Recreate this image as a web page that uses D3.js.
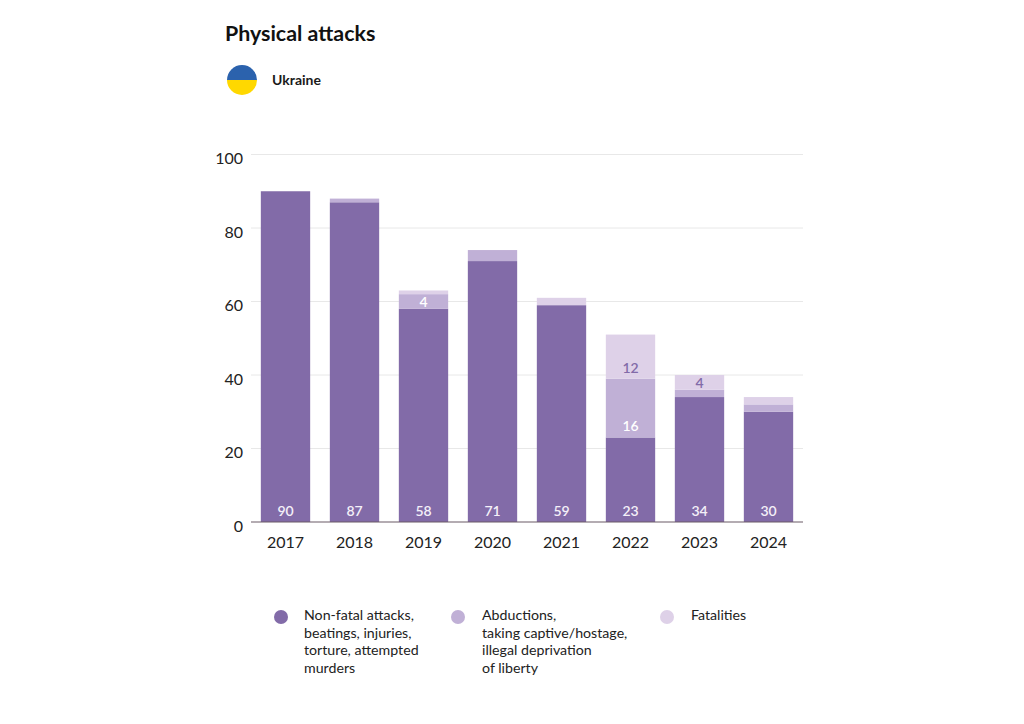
<!DOCTYPE html>
<html><head><meta charset="utf-8">
<script src="https://cdn.jsdelivr.net/npm/d3@7/dist/d3.min.js"></script>
<style>html,body{margin:0;padding:0;background:#fff}svg{display:block}text{font-family:Lato,sans-serif}</style>
</head><body><svg id="c" width="1024" height="724"></svg>
<script>
const years=["2017","2018","2019","2020","2021","2022","2023","2024"];
const nonFatal=[90,87,58,71,59,23,34,30];
const abductions=[0,1,4,3,0,16,2,2];
const fatalities=[0,0,1,0,2,12,4,2];
const yTicks=[0,20,40,60,80,100];
const seriesNames=["nonFatal","abductions","fatalities"];
const seriesColors=["#826ba8","#c0b0d6","#ded1e8"];
const legendLabels=[
 ["Non-fatal attacks,","beatings, injuries,","torture, attempted","murders"],
 ["Abductions,","taking captive/hostage,","illegal deprivation","of liberty"],
 ["Fatalities"]];
const shownLabels=[
 {s:"abductions",y:"2019",c:"#fff"},{s:"abductions",y:"2022",c:"#fff"},
 {s:"fatalities",y:"2022",c:"#826ba8"},{s:"fatalities",y:"2023",c:"#826ba8"}];

const svg=d3.select("#c");
const rows=years.map((y,i)=>({year:y,nonFatal:nonFatal[i],abductions:abductions[i],fatalities:fatalities[i]}));
const stacked=d3.stack().keys(seriesNames)(rows);
const x=d3.scaleBand().domain(years).range([251,803]).paddingInner(0.285).paddingOuter(0.1425);
const y=d3.scaleLinear().domain([0,100]).range([522,154.5]);

svg.append("text").attr("x",225).attr("y",41).attr("font-size",21.4).attr("font-weight",700).attr("fill","#111").text("Physical attacks");
const flag=svg.append("g");
flag.append("clipPath").attr("id","fc").append("circle").attr("cx",242).attr("cy",80).attr("r",15);
flag.append("rect").attr("x",227).attr("y",65).attr("width",30).attr("height",15).attr("fill","#2b62ad").attr("clip-path","url(#fc)");
flag.append("rect").attr("x",227).attr("y",80).attr("width",30).attr("height",15).attr("fill","#ffd800").attr("clip-path","url(#fc)");
svg.append("text").attr("x",272).attr("y",85).attr("font-size",14).attr("font-weight",700).attr("fill","#1a1a1a").text("Ukraine");

const ga=svg.append("g");
ga.selectAll("line").data(yTicks.filter(d=>d>0)).join("line")
 .attr("x1",251).attr("x2",803).attr("y1",d=>y(d)).attr("y2",d=>y(d)).attr("stroke","#e8e8e8").attr("stroke-width",1);
ga.selectAll("text").data(yTicks).join("text").attr("x",243).attr("y",d=>y(d)+9.5).attr("text-anchor","end")
 .attr("font-size",16).attr("fill","#222").text(d=>d);

stacked.forEach((s,i)=>{
 svg.append("g").attr("fill",seriesColors[i]).selectAll("rect").data(s.filter(d=>d[1]>d[0])).join("rect")
  .attr("x",d=>x(d.data.year)).attr("width",x.bandwidth())
  .attr("y",d=>y(d[1])).attr("height",d=>y(d[0])-y(d[1]));
});
svg.append("line").attr("x1",251).attr("x2",803).attr("y1",522).attr("y2",522).attr("stroke","#6b5a66").attr("stroke-width",1.2);

const cx=d=>x(d)+x.bandwidth()/2;
svg.append("g").selectAll("text").data(years).join("text").attr("x",cx).attr("y",547.5).attr("text-anchor","middle")
 .attr("font-size",16).attr("fill","#222").text(d=>d);
svg.append("g").selectAll("text").data(rows).join("text").attr("x",d=>cx(d.year)).attr("y",516).attr("text-anchor","middle")
 .attr("font-size",14).attr("font-weight",600).attr("fill","#f4f0f8").text(d=>d.nonFatal);
const gl=svg.append("g");
shownLabels.forEach(l=>{
 const si=seriesNames.indexOf(l.s), yi=years.indexOf(l.y), seg=stacked[si][yi];
 const off=(seg[1]-seg[0])>8?6:2;
 gl.append("text").attr("x",cx(l.y)).attr("y",y(seg[0])-off).attr("text-anchor","middle")
  .attr("font-size",14).attr("font-weight",600).attr("fill",l.c).text(seg[1]-seg[0]);
});

const legX=[281,458,667], legTx=[304,482,691];
legendLabels.forEach((lines,i)=>{
 svg.append("circle").attr("cx",legX[i]).attr("cy",617).attr("r",7).attr("fill",seriesColors[i]);
 svg.append("g").selectAll("text").data(lines).join("text").attr("x",legTx[i]).attr("y",(d,j)=>620+j*17.7)
  .attr("font-size",14.2).attr("fill","#222").text(d=>d);
});
</script></body></html>
